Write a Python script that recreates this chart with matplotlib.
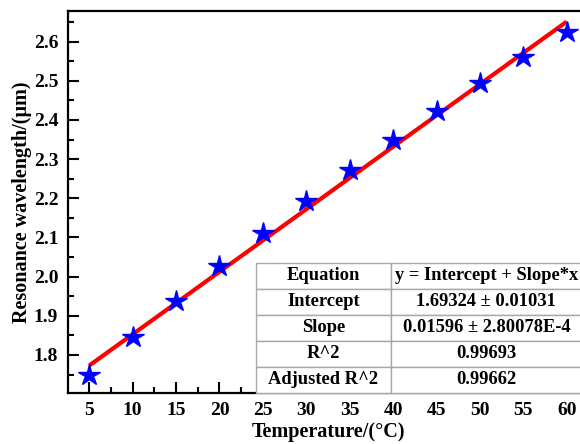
import matplotlib
matplotlib.use("Agg")
import matplotlib.pyplot as plt
import numpy as np

# Data
temperature = [5, 10, 15, 20, 25, 30, 35, 40, 45, 50, 55, 60]
wavelength = [1.749, 1.845, 1.938, 2.026, 2.112, 2.194, 2.273, 2.348, 2.422, 2.493, 2.560, 2.624]
fit_intercept = 1.69324
fit_slope = 0.01596
x_ticks = [5, 10, 15, 20, 25, 30, 35, 40, 45, 50, 55, 60]
y_ticks = [1.8, 1.9, 2.0, 2.1, 2.2, 2.3, 2.4, 2.5, 2.6]
table_rows = [
    ["Equation", "y = Intercept + Slope*x"],
    ["Intercept", "1.69324 \u00b1 0.01031"],
    ["Slope", "0.01596 \u00b1 2.80078E-4"],
    ["R^2", "0.99693"],
    ["Adjusted R^2", "0.99662"],
]

plt.rcParams['font.family'] = ['Liberation Serif', 'DejaVu Serif']
plt.rcParams['font.weight'] = 'bold'

W, H = 580, 444
fig = plt.figure(figsize=(W / 100, H / 100), dpi=100)
ax_l, ax_r, ax_t, ax_b = 68, 588, 11, 392.7
ax = fig.add_axes([ax_l / W, (H - ax_b) / H, (ax_r - ax_l) / W, (ax_b - ax_t) / H])

xfit = np.array([temperature[0], temperature[-1]])
ax.plot(xfit, fit_intercept + fit_slope * xfit, color='#ff0000', lw=3, zorder=2,
        solid_capstyle='butt')
ax.plot(temperature, wavelength, linestyle='none', marker='*', ms=16,
        color='#0000ff', markeredgecolor='#0000ff', zorder=3)

ax.set_xlim(2.55, 62.45)
ax.set_ylim(1.7037, 2.678)
ax.set_xticks(x_ticks)
ax.set_yticks(y_ticks)
ax.set_yticklabels([f"{v:.1f}" for v in y_ticks])
ax.set_xticks(np.arange(7.5, 62, 5), minor=True)
ax.set_yticks(np.arange(1.75, 2.68, 0.1), minor=True)
ax.tick_params(which='major', direction='in', length=8, width=1.5, labelsize=14, pad=7)
ax.tick_params(which='minor', direction='in', length=4, width=1.5)
for lab in ax.get_xticklabels() + ax.get_yticklabels():
    lab.set_fontweight('bold')
for sp in ax.spines.values():
    sp.set_linewidth(1.6)

ax.set_xlabel("Temperature/(\u00b0C)", fontsize=14.5, fontweight='bold', labelpad=2)
ax.set_ylabel("Resonance wavelength/(\u03bcm)", fontsize=14.5, fontweight='bold', labelpad=1)

# Table
aw, ah = ax_r - ax_l, ax_b - ax_t
t_l, t_r, t_t, t_b = 256, 582, 262.7, 392.7
col_split = 390.7
bbox = [(t_l - ax_l) / aw, (ax_b - t_b) / ah, (t_r - t_l) / aw, (t_b - t_t) / ah]
tbl = ax.table(cellText=table_rows, cellLoc='center', bbox=bbox,
               colWidths=[(col_split - t_l) / (t_r - t_l), (t_r - col_split) / (t_r - t_l)])
tbl.auto_set_font_size(False)
tbl.set_fontsize(13.3)
for (r, c), cell in tbl.get_celld().items():
    cell.set_edgecolor('#a8a8a8')
    cell.set_linewidth(1.0)
    cell.set_facecolor('white')
    cell.get_text().set_fontweight('bold')
tbl.set_zorder(4)

fig.savefig("out.png", dpi=100)
